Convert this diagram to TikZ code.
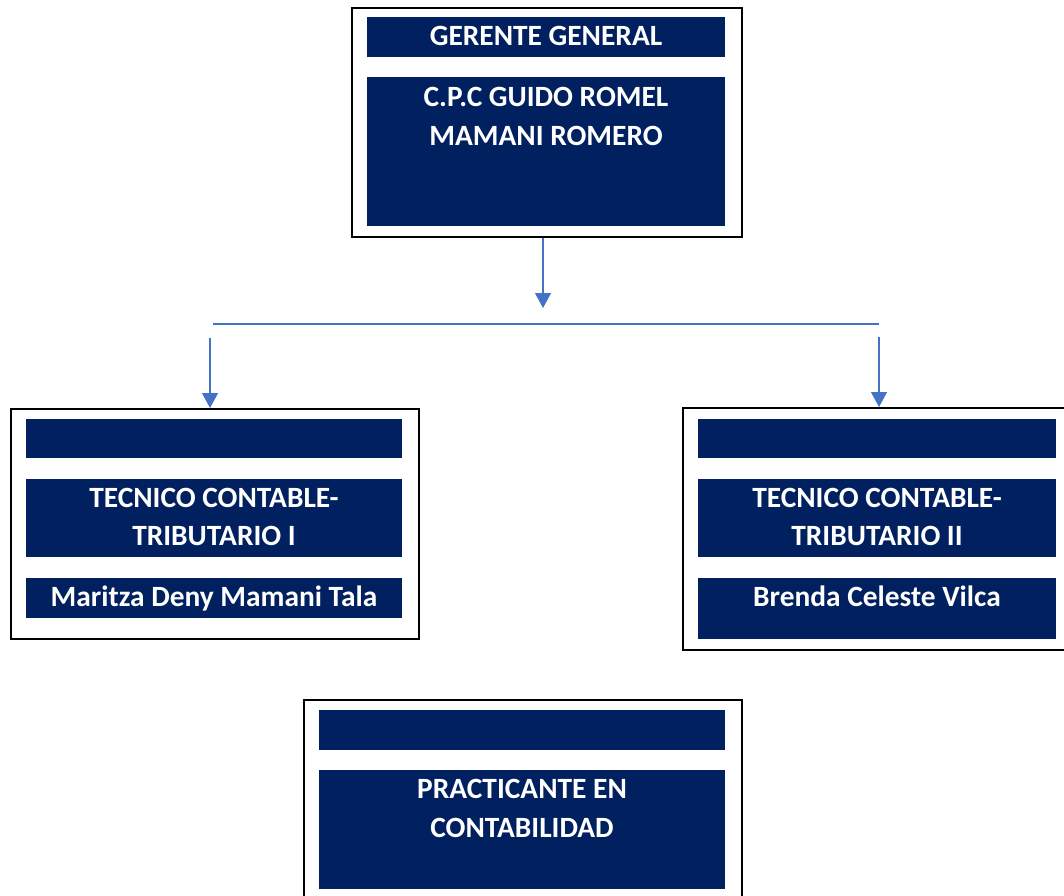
\documentclass[tikz,border=0pt]{standalone}
\usepackage{fontspec}
\setmainfont{Carlito}
\usetikzlibrary{arrows.meta}
\definecolor{navy}{RGB}{0,32,96}
\definecolor{linkblue}{RGB}{68,114,196}
\begin{document}
\begin{tikzpicture}[x=1pt,y=-1pt,
  outerbox/.style={draw=black,line width=2pt,fill=white,inner sep=0pt,anchor=north west},
  bar/.style={fill=navy,draw=none,inner sep=0pt,anchor=north west},
  lbl/.style={text=white,font=\bfseries\fontsize{29.4}{38.5}\selectfont,align=center,inner sep=0pt},
  arr/.style={draw=linkblue,line width=1.2pt,-{Triangle[width=16pt,length=15pt]}},
  bus/.style={draw=linkblue,line width=1.2pt}]
\useasboundingbox (0,0) rectangle (1064,895);
% top box
\node[outerbox,minimum width=390pt,minimum height=229pt] (top) at (351,7) {};
\node[bar,minimum width=358pt,minimum height=40pt] (t1) at (367,17) {};
\node[bar,minimum width=358pt,minimum height=149pt] (t2) at (367,77) {};
\node[lbl,anchor=base] (tg) at (546,45) {GERENTE GENERAL};
\node[lbl] (tn) at (546,116.5) {C.P.C GUIDO ROMEL\\MAMANI ROMERO};
% left box
\node[outerbox,minimum width=408pt,minimum height=230pt] (lbox) at (10,408) {};
\node[bar,minimum width=376pt,minimum height=39pt] (l1) at (26,419) {};
\node[bar,minimum width=376pt,minimum height=78pt] (l2) at (26,479) {};
\node[bar,minimum width=376pt,minimum height=40pt] (l3) at (26,578) {};
\node[lbl] (lt) at (214,517) {TECNICO CONTABLE-\\TRIBUTARIO I};
\node[lbl,anchor=base] (ln) at (214,606) {Maritza Deny Mamani Tala};
% right box
\node[outerbox,minimum width=400pt,minimum height=242pt] (rbox) at (682,407) {};
\node[bar,minimum width=358pt,minimum height=39pt] (r1) at (698,419) {};
\node[bar,minimum width=358pt,minimum height=78pt] (r2) at (698,479) {};
\node[bar,minimum width=358pt,minimum height=61pt] (r3) at (698,578) {};
\node[lbl] (rt) at (877,517) {TECNICO CONTABLE-\\TRIBUTARIO II};
\node[lbl,anchor=base] (rn) at (877,606) {Brenda Celeste Vilca};
% bottom box
\node[outerbox,minimum width=438pt,minimum height=210pt] (bbox) at (303,699) {};
\node[bar,minimum width=406pt,minimum height=40pt] (b1) at (319,710) {};
\node[bar,minimum width=406pt,minimum height=119pt] (b2) at (319,770) {};
\node[lbl] (bt) at (522,808.5) {PRACTICANTE EN\\CONTABILIDAD};
% connectors
\coordinate (ds) at (543,238);
\coordinate (de) at (543,308);
\coordinate (busL) at (213,324);
\coordinate (busR) at (879,324);
\coordinate (ls) at (210,338);
\coordinate (le) at (210,408);
\coordinate (rs) at (879,337);
\coordinate (re) at (879,407);
\draw[arr] (ds) -- (de);
\draw[bus] (busL) -- (busR);
\draw[arr] (ls) -- (le);
\draw[arr] (rs) -- (re);
\end{tikzpicture}
\end{document}
